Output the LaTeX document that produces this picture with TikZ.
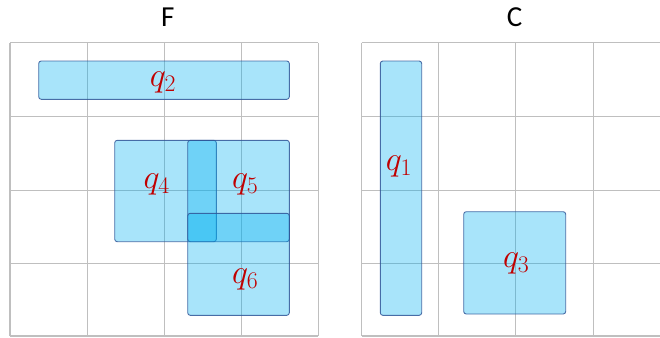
\RequirePackage{fix-cm}
\documentclass[tikz,border=0pt]{standalone}
\usepackage{fontspec}
\newfontfamily\headfont{Carlito}
\usetikzlibrary{fit}

\definecolor{boxfill}{RGB}{0,176,240}
\definecolor{boxline}{RGB}{47,85,151}
\definecolor{gridgray}{RGB}{191,191,191}
\definecolor{qred}{RGB}{192,0,0}

\begin{document}
\begin{tikzpicture}[x=1pt, y=-1pt,
    cell/.style={draw=gridgray, line width=1.4pt, line cap=square},
    qbox/.style={draw=boxline, draw opacity=0.85, line width=0.9pt, fill=boxfill,
                 fill opacity=0.34, rounded corners=2.5pt, inner sep=0pt},
    qlab/.style={text=qred, font=\fontsize{34}{40}\selectfont, inner sep=0pt},
    heading/.style={font=\headfont\fontsize{29}{34}\selectfont, inner sep=0pt}]
  \useasboundingbox (0,0) rectangle (660,337);
  \clip (0,0) rectangle (660,337);
  % grids
  \foreach \x in {10,87.3,164.3,241.3,318.3}
    \draw[cell] (\x,42.7) -- (\x,336);
  \foreach \y in {42.7,116.3,190.3,263.7,336}
    \draw[cell] (10,\y) -- (318.3,\y);
  \foreach \x in {361.7,438.3,515.7,593.3,670}
    \draw[cell] (\x,42.7) -- (\x,336);
  \foreach \y in {42.7,116.3,190.3,263.7,336}
    \draw[cell] (361.7,\y) -- (670,\y);
  \node[heading] (tF) at (167.8,17) {F};
  \node[heading] (tC) at (514.7,17) {C};
  % query boxes
  \node[qbox, fit={(38.7,61) (289.3,99.3)}] (b2) {};
  \node[qbox, fit={(114.7,140.3) (216.3,241.7)}] (b4) {};
  \node[qbox, fit={(187.7,140.3) (289.3,241.7)}] (b5) {};
  \node[qbox, fit={(187.7,213.3) (289.3,315.3)}] (b6) {};
  \node[qbox, fit={(380.3,61) (421.7,315.3)}] (b1) {};
  \node[qbox, fit={(463.7,211.7) (565.7,314)}] (b3) {};
  \node[qlab] (q2) at (163,82.7) {$q_2$};
  \node[qlab] (q4) at (156.7,184.7) {$q_4$};
  \node[qlab] (q5) at (245.3,184.7) {$q_5$};
  \node[qlab] (q6) at (245.3,279.7) {$q_6$};
  \node[qlab] (q1) at (399,166) {$q_1$};
  \node[qlab] (q3) at (516.3,263.8) {$q_3$};
\end{tikzpicture}
\end{document}
